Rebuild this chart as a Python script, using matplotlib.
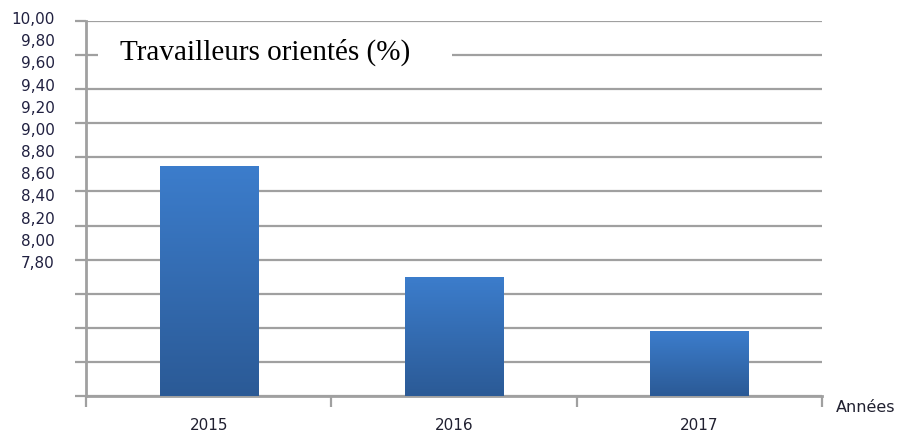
import numpy as np
import matplotlib
matplotlib.use("Agg")
import matplotlib.pyplot as plt
from matplotlib.colors import LinearSegmentedColormap
from matplotlib.patches import Rectangle

annees = ["2015", "2016", "2017"]
valeurs = [9.15, 8.50, 8.18]
graduations = [10.00, 9.80, 9.60, 9.40, 9.20, 9.00, 8.80, 8.60, 8.40, 8.20, 8.00, 7.80]
titre = "Travailleurs orientés (%)"

W, H = 899, 435
fig = plt.figure(figsize=(W / 100, H / 100), dpi=100)
ax = fig.add_axes([86 / W, 1 - 397 / H, (822 - 86) / W, (397 - 22) / H])

gris = "#a0a0a0"
ymin, ymax = min(graduations), max(graduations)

# barres avec degradé
degrade = LinearSegmentedColormap.from_list("bleu", ["#2b5a96", "#3c7dcc"])
x = np.arange(len(annees))
barres = ax.bar(x, [v - ymin for v in valeurs], bottom=ymin, width=0.4,
                color="#3470b8", edgecolor="none", zorder=3)
grad = np.linspace(0, 1, 256).reshape(-1, 1)
for b in barres:
    x0, y0 = b.get_x(), b.get_y()
    im = ax.imshow(grad, cmap=degrade, origin="lower", aspect="auto",
                   extent=[x0, x0 + b.get_width(), y0, y0 + b.get_height()], zorder=4)
    im.set_clip_path(b)
ax.set_xlim(-0.5, len(annees) - 0.5)
ax.set_ylim(ymin, ymax)

# grille
ax.set_yticks(graduations)
ax.set_yticklabels([])
ax.yaxis.grid(True, color=gris, linewidth=1.6, zorder=1)
ax.set_axisbelow(True)
ax.tick_params(axis="y", length=8, width=1.6, color=gris, direction="out")

ax.set_xticks(np.arange(-0.5, len(annees), 1.0))
ax.set_xticklabels([])
ax.set_xticks(x, minor=True)
ax.set_xticklabels(annees, minor=True, fontsize=11, color="#202030")
ax.tick_params(axis="x", which="major", length=8, width=1.6, color=gris, direction="out")
ax.tick_params(axis="x", which="minor", length=0, pad=15)

for s in ["top", "right"]:
    ax.spines[s].set_visible(False)
for s in ["left", "bottom"]:
    ax.spines[s].set_color(gris)
    ax.spines[s].set_linewidth(2)

# titre sur fond blanc
ax.add_patch(Rectangle(((98 - 86) / (822 - 86), (397 - 66) / (397 - 22)),
                       (452 - 98) / (822 - 86), 26 / (397 - 22),
                       transform=ax.transAxes, facecolor="white", edgecolor="none", zorder=2))
ax.text((120 - 86) / (822 - 86), (397 - 52) / (397 - 22), titre, transform=ax.transAxes,
        family="Liberation Serif", fontsize=21, va="center", ha="left", zorder=5)

# etiquettes de l'axe vertical (colonne serrée)
for i, g in enumerate(graduations):
    yc = 19.5 + i * (263.5 - 19.5) / (len(graduations) - 1)
    fig.text(55 / W, 1 - yc / H, f"{g:.2f}".replace(".", ","), ha="right", va="center",
             fontsize=11, color="#202040")

fig.text(836 / W, 1 - 408 / H, "Années", ha="left", va="center", fontsize=11.5, color="#202030")

fig.savefig("out.png", dpi=100)
